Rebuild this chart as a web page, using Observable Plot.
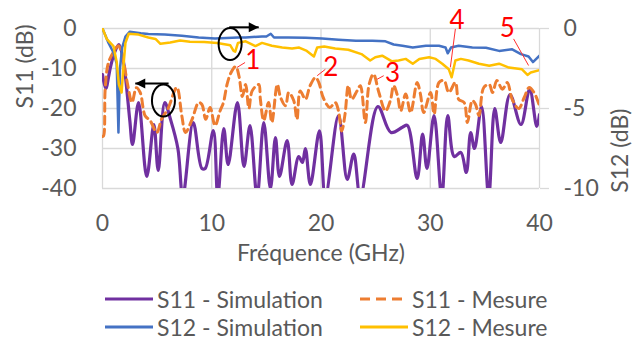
<!DOCTYPE html>
<html><head><meta charset="utf-8">
<script src="https://cdn.jsdelivr.net/npm/d3@7"></script>
<script src="https://cdn.jsdelivr.net/npm/@observablehq/plot@0.6"></script>
<style>
body{margin:0;background:#fff;}
#wrap{position:relative;width:632px;height:340px;font-family:Lato, sans-serif;color:#595959;overflow:hidden;}
#wrap svg.chart{position:absolute;left:0;top:0;}
.leg{position:absolute;display:flex;align-items:center;font-size:23px;white-space:nowrap;height:28px;line-height:28px;}
.leg svg{margin-right:4px;}
</style></head><body><div id="wrap"></div>
<script>
// ---- data (GHz, dB) ----
const s11SimF  = [0,0.3,0.7,1.1,1.5,1.9,2.1,2.5,2.75,3.3,4.05,4.7,5.1,5.7,6.2,6.9,7.35,8.3,9.1,9.4,10.15,10.55,11.1,11.5,12.35,12.95,13.5,14.15,14.76,15.37,15.83,16.2,16.9,17.35,17.96,18.3,18.57,19.03,19.86,20.4,21.6,22.4,23.0,23.6,25.2,26.4,27.45,27.9,28.8,29.3,29.7,30.35,31.05,31.6,32.2,32.8,33.3,33.7,34.05,34.7,35.35,35.9,36.45,37.3,38.3,39.1,39.75,40];
const s11SimDb = [-11.5,-15,-10,-6,-4,-8,-12,-23,-29,-18.5,-37,-24,-35.5,-18.5,-22.5,-30,-42,-23.5,-35,-35,-25.5,-42,-25,-34,-18.5,-34.5,-24.3,-42,-23.5,-40,-27.3,-37,-28,-39,-32,-33.5,-30,-39,-25.6,-42,-21.8,-37.7,-31.4,-42,-19.5,-26,-24.7,-24.2,-37.5,-26.4,-35,-21.8,-42,-21.8,-32,-31,-36,-26,-30,-19.5,-42,-20,-28.5,-16.5,-24,-15.2,-24.5,-21.5];

const s11MesF  = [0,0.1,0.25,0.55,1.16,1.46,1.9,2.3,2.7,3.1,3.45,3.9,4.36,4.97,5.4,6.0,6.8,7.26,7.6,8.2,8.8,9.1,9.45,9.85,10.3,10.76,11.07,11.4,11.77,12.2,12.5,12.8,13.1,13.4,13.7,14.3,14.45,14.76,15.2,15.5,16.0,16.3,16.75,17.05,17.5,17.8,18.1,18.57,19.0,19.5,19.8,20.2,20.8,21.3,21.6,21.9,22.2,22.5,22.8,23.3,23.6,24.06,24.4,24.8,25.3,25.9,26.35,26.65,27.0,27.3,27.75,28.2,28.8,29.1,29.4,30.03,30.35,30.8,31.26,31.7,32.3,32.6,33.1,33.4,33.85,34.15,34.46,34.9,35.4,35.7,36.1,36.6,37.05,37.5,38.1,38.6,39.06,39.5,40];
const s11MesDb = [-27,-26.8,-15,-8.5,-5.2,-4.3,-8,-14,-18.5,-14.8,-16,-21.8,-23,-26,-22.7,-20,-14.75,-21.8,-26,-22.7,-18.5,-19,-22.7,-19.75,-24.3,-20.6,-18.5,-14,-11,-9.5,-12,-17,-14,-20,-15.6,-14,-17.7,-23,-18.5,-23.5,-14,-17.25,-19.3,-16,-18,-22.7,-15.6,-17.7,-14.3,-12.25,-13.5,-17.25,-19.75,-18.5,-20.6,-25.6,-21.4,-14.3,-17.7,-15.6,-14.3,-23.5,-14,-11.4,-16,-20.6,-18,-14.3,-16.8,-20.6,-16.4,-21,-13.5,-16.4,-21,-16,-21.4,-13.5,-13,-16,-13.5,-17.7,-18.5,-23.5,-18,-19,-21.8,-14.75,-14,-16,-13,-15.2,-13.5,-17.7,-20,-17.25,-14.75,-16,-19.3];

const s12SimF  = [0,0.55,1.0,1.3,1.46,1.6,1.8,2.1,2.5,3.5,4.2,5.7,7.26,8.8,10.3,12.4,13.1,14.6,15.0,15.4,15.7,17,18.6,20.1,21.6,23.2,24.7,25.9,26.65,27.45,28.4,29.6,30.8,31.4,31.6,31.9,32.6,33.85,35.1,36.3,37.5,38.3,39.0,39.4,40];
const s12SimDb = [0,-0.9,-1.5,-2.2,-6.5,-2.5,-1.2,-0.5,-0.2,-0.3,-0.35,-0.38,-0.46,-0.56,-0.63,-0.56,-0.56,-0.5,-0.5,-0.33,-0.56,-0.56,-0.58,-0.63,-0.7,-0.77,-0.77,-0.8,-1.0,-1.08,-1.19,-1.08,-1.08,-1.19,-1.55,-1.19,-1.08,-1.19,-1.2,-1.4,-1.3,-1.6,-1.75,-2.1,-1.7];

const s12MesF  = [0,0.4,1.0,1.3,1.5,1.75,1.9,2.1,2.4,3.3,4.2,4.85,5.3,6.2,7.1,8.0,9.3,10.5,11.7,12.0,12.15,12.4,13.1,14.0,14.6,15.5,16.45,17.35,18,18.7,19.35,19.65,20.3,21.3,22.5,23.7,24.5,24.97,25.6,26.5,27.1,27.75,28.4,29,29.9,30.5,31.1,31.7,31.96,32.3,32.8,33.5,34.46,35.4,36.3,37.2,38.4,38.9,39.2,40];
const s12MesDb = [0,-0.67,-1.1,-2.1,-3.5,-4,-2.5,-0.9,-0.33,-0.38,-0.56,-0.65,-0.96,-0.88,-0.75,-0.83,-0.85,-0.9,-1.05,-1.4,-1.45,-0.9,-0.8,-1.1,-0.9,-1.08,-1.19,-1.25,-1.19,-1.4,-1.75,-1.19,-1.12,-1.25,-1.33,-1.6,-2.0,-1.8,-1.7,-2.05,-2.0,-1.9,-2.2,-1.9,-1.8,-1.9,-2.2,-2.55,-3.05,-2.0,-1.9,-2.0,-2.2,-2.33,-2.2,-2.44,-2.55,-2.9,-2.75,-2.6];

const freqTicks = [0,10,20,30,40];
const s11Ticks = [0,-10,-20,-30,-40];
const s12Ticks = [0,-5,-10];

// annotations (GHz, S11 dB units)
const ellipseF = [5.58, 11.68], ellipseDb = [-18, -3.9];
const arrowF1 = [6.05, 11.6], arrowF2 = [3.0, 14.3], arrowDb = [-13.75, 0.3], arrowDir = ["left","right"];
const numLabels = ["1","2","3","4","5"];
const numF = [13.75, 20.9, 26.55, 32.45, 37.05], numDb = [-8.1, -9.75, -11.3, 2.0, -0.1];
const leadF1 = [13.05, 20.4, 25.74, 32.3, 37.63], leadDb1 = [-8.5, -10.2, -11.8, -0.1, -2.6];
const leadF2 = [12.3, 19.65, 25.13, 31.84, 39.0], leadDb2 = [-9.75, -11.8, -12.7, -9.7, -9.25];

const series = [
  {name:"S11 - Simulation", color:"#7030a0", dash:null},
  {name:"S11 - Mesure", color:"#ed7d31", dash:"10,6"},
  {name:"S12 - Simulation", color:"#4472c4", dash:null},
  {name:"S12 - Mesure", color:"#ffc000", dash:null}
];

// ---- tables ----
const zipT = (F, V) => F.map((f, i) => ({f, v: V[i]}));
const s11Sim = zipT(s11SimF, s11SimDb), s11Mes = zipT(s11MesF, s11MesDb);
const s12Sim = zipT(s12SimF, s12SimDb), s12Mes = zipT(s12MesF, s12MesDb);
const ellipses = ellipseF.map((f,i)=>({f, v: ellipseDb[i]}));
const arrows = arrowF1.map((f,i)=>({f1:f, f2:arrowF2[i], v:arrowDb[i], dir:arrowDir[i]}));
const nums = numLabels.map((t,i)=>({t, f:numF[i], v:numDb[i]}));
const leads = leadF1.map((f,i)=>({f1:f, v1:leadDb1[i], f2:leadF2[i], v2:leadDb2[i]}));

const S12K = 4; // S12 dB -> S11 axis units (right axis 0..-10 maps 0..-40)
const TXT = "#595959", GRID = "#d9d9d9", FONT = 23;

const ellipseSym = {draw(ctx){ const rx=11.5, ry=16, k=0.5523;
  ctx.moveTo(rx,0); ctx.bezierCurveTo(rx,ry*k,rx*k,ry,0,ry); ctx.bezierCurveTo(-rx*k,ry,-rx,ry*k,-rx,0);
  ctx.bezierCurveTo(-rx,-ry*k,-rx*k,-ry,0,-ry); ctx.bezierCurveTo(rx*k,-ry,rx,-ry*k,rx,0); ctx.closePath(); }};
const headR = {draw(ctx){ ctx.moveTo(0,0); ctx.lineTo(-10,-5); ctx.lineTo(-10,5); ctx.closePath(); }};
const headL = {draw(ctx){ ctx.moveTo(0,0); ctx.lineTo(10,-5); ctx.lineTo(10,5); ctx.closePath(); }};

const chart = Plot.plot({
  width: 632, height: 276,
  marginLeft: 102, marginRight: 93, marginTop: 28, marginBottom: 88,
  style: {fontFamily: "Lato, sans-serif", fontSize: FONT + "px", color: TXT, background: "transparent", overflow: "visible"},
  x: {domain: [0, 40]},
  y: {domain: [-40, 0]},
  marks: [
    Plot.ruleY(s11Ticks, {stroke: GRID, strokeWidth: 1.3}),
    Plot.ruleX(freqTicks, {stroke: GRID, strokeWidth: 1.3}),
    Plot.axisX({ticks: freqTicks, tickSize: 0, tickPadding: 26, tickFormat: d => String(d), label: null, fill: TXT, fontSize: FONT}),
    Plot.axisY({anchor: "left", ticks: s11Ticks, tickSize: 0, tickPadding: 26, tickFormat: d => String(d), label: null, fill: TXT, fontSize: FONT}),
    Plot.axisY({anchor: "right", ticks: s12Ticks.map(v => v * S12K), tickSize: 9, tickPadding: 15, stroke: GRID, strokeWidth: 1.3, fill: TXT, tickFormat: d => String(d / S12K), label: null, fontSize: FONT}),
    Plot.line(s11Sim, {x: "f", y: "v", stroke: series[0].color, strokeWidth: 3.2, curve: "catmull-rom", clip: true}),
    Plot.line(s11Mes, {x: "f", y: "v", stroke: series[1].color, strokeWidth: 3, strokeDasharray: "8,5", curve: "catmull-rom", clip: true}),
    Plot.line(s12Sim, {x: "f", y: d => d.v * S12K, stroke: series[2].color, strokeWidth: 2.5, clip: true}),
    Plot.line(s12Mes, {x: "f", y: d => d.v * S12K, stroke: series[3].color, strokeWidth: 2.5, clip: true}),
    // annotations
    Plot.dot(ellipses, {x: "f", y: "v", symbol: ellipseSym, stroke: "black", strokeWidth: 2, fill: "none"}),
    Plot.link(arrows, {x1: "f1", x2: d => d.f2, y1: "v", y2: "v", stroke: "black", strokeWidth: 2}),
    Plot.dot(arrows.filter(d => d.dir === "right"), {x: "f2", y: "v", symbol: headR, fill: "black", stroke: "none"}),
    Plot.dot(arrows.filter(d => d.dir === "left"), {x: "f2", y: "v", symbol: headL, fill: "black", stroke: "none"}),
    Plot.link(leads, {x1: "f1", y1: "v1", x2: "f2", y2: "v2", stroke: "#ff3030", strokeWidth: 1}),
    Plot.text(nums, {x: "f", y: "v", text: "t", fill: "#ff0000", fontSize: 26}),
    // axis titles
    Plot.text(["S11 (dB)"], {frameAnchor: "left", dx: -77, rotate: -90, text: d => d, fill: TXT, fontSize: FONT}),
    Plot.text(["S12 (dB)"], {frameAnchor: "right", dx: 81, rotate: -90, text: d => d, fill: TXT, fontSize: FONT}),
    Plot.text(["Fréquence (GHz)"], {frameAnchor: "bottom", dy: 72, text: d => d, fill: TXT, fontSize: FONT})
  ]
});
chart.classList.add("chart");
const wrap = document.getElementById("wrap");
wrap.appendChild(chart);

// legend
const legPos = [[105, 299], [360, 299], [105, 327], [360, 327]];
series.forEach((s, i) => {
  const d = document.createElement("div");
  d.className = "leg";
  d.style.left = legPos[i][0] + "px";
  d.style.top = (legPos[i][1] - 14) + "px";
  const ns = "http://www.w3.org/2000/svg";
  const sv = document.createElementNS(ns, "svg");
  sv.setAttribute("width", 48); sv.setAttribute("height", 10);
  const ln = document.createElementNS(ns, "line");
  ln.setAttribute("x1", 0); ln.setAttribute("x2", 48); ln.setAttribute("y1", 5); ln.setAttribute("y2", 5);
  ln.setAttribute("stroke", s.color); ln.setAttribute("stroke-width", 3);
  if (s.dash) ln.setAttribute("stroke-dasharray", s.dash);
  sv.appendChild(ln);
  d.appendChild(sv);
  const t = document.createElement("span");
  t.textContent = s.name;
  d.appendChild(t);
  wrap.appendChild(d);
});
</script></body></html>
